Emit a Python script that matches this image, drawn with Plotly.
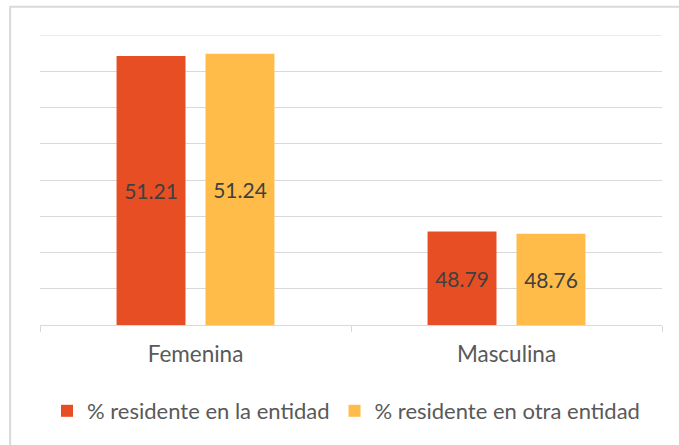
import plotly.graph_objects as go

categories = ["Femenina", "Masculina"]
series_names = ["% residente en la entidad", "% residente en otra entidad"]
residente_entidad = [51.21, 48.79]
residente_otra = [51.24, 48.76]

Y_MIN = 47.5
Y_MAX = 51.5
colors = ["#E84E23", "#FFBC48"]
FONT = "Lato, sans-serif"
GRID = "#D9D9D9"

fig = go.Figure()
for name, vals, col in zip(series_names, [residente_entidad, residente_otra], colors):
    # bars start at the bottom of the visible axis so the inside label is centred
    fig.add_trace(go.Bar(
        x=categories,
        y=[v - Y_MIN for v in vals],
        base=Y_MIN,
        name=name,
        marker=dict(color=col, line=dict(width=0)),
        text=[f"{v:.2f}" for v in vals],
        textposition="inside",
        insidetextanchor="middle",
        textangle=0,
        textfont=dict(size=21, color="#404040", family=FONT),
        hoverinfo="skip",
    ))

fig.update_layout(
    width=679,
    height=445,
    barmode="group",
    bargap=0.428,
    bargroupgap=0.225,
    plot_bgcolor="white",
    paper_bgcolor="white",
    font=dict(family=FONT, color="#595959", size=22.5),
    margin=dict(l=40, r=17, t=35, b=120),
    showlegend=True,
    legend=dict(
        orientation="h",
        x=0.492,
        xanchor="center",
        yref="container",
        y=(445 - 411) / 445,
        yanchor="middle",
        font=dict(size=22, color="#595959"),
        itemwidth=30,
        traceorder="normal",
    ),
    shapes=[
        # outer chart frame
        dict(
            type="rect", xref="paper", yref="paper",
            x0=-0.048, x1=1.2, y0=-0.6, y1=1.097,
            line=dict(color=GRID, width=2),
            fillcolor="rgba(0,0,0,0)",
            layer="below",
        ),
        # top gridline (plotly drops the one on the range edge)
        dict(
            type="line", xref="paper", yref="y",
            x0=0, x1=1, y0=Y_MAX, y1=Y_MAX,
            line=dict(color=GRID, width=1),
            layer="below",
        ),
    ],
)

fig.update_xaxes(
    showline=True,
    linecolor=GRID,
    linewidth=1,
    ticks="outside",
    tickson="boundaries",
    ticklen=6,
    tickcolor=GRID,
    showgrid=False,
    ticklabelstandoff=9,
    tickfont=dict(size=22.5, color="#595959"),
    automargin=False,
)

fig.update_yaxes(
    range=[Y_MIN, Y_MAX],
    dtick=0.5,
    tick0=Y_MIN,
    showticklabels=False,
    showgrid=True,
    gridcolor=GRID,
    gridwidth=1,
    zeroline=False,
    showline=False,
    automargin=False,
)

fig.write_html(
    "out.html",
    config={"displayModeBar": False},
    post_script="document.body.style.margin='0';",
)
